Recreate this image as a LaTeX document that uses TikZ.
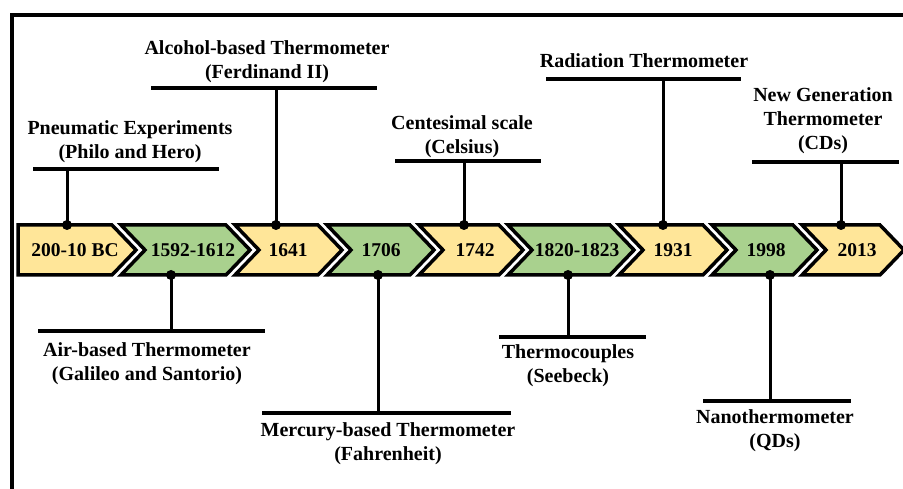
\documentclass[tikz,border=0pt]{standalone}
\usepackage{fontspec}
\setmainfont{Liberation Serif}
\definecolor{chevY}{HTML}{FFE699}
\definecolor{chevG}{HTML}{A9D18E}
\tikzset{
  chevbox/.style={draw=black, line width=3.5pt, line join=miter},
  yearlabel/.style={font=\bfseries\fontsize{19.5}{23}\selectfont, inner sep=0pt},
  evlabel/.style={font=\bfseries\fontsize{20}{24}\selectfont, inner sep=0pt, align=center},
  barline/.style={line width=4pt},
  stemline/.style={line width=3pt},
  dotmark/.style={fill=black},
}
% #1 left x, #2 right x, #3 colour, #4 name, #5 text, #6 text centre x
\newcommand\chevshape[6]{%
  \draw[chevbox, fill=#3] (#1,225) -- (#2,225) -- (#2+24,250) -- (#2,275) -- (#1,275) -- (#1+24,250) -- cycle;
  \node[yearlabel] (#4) at (#6,250) {#5};}
% #1 name, #2 stem x, #3 dot y, #4 bar y, #5 bar x1, #6 bar x2
\newcommand\evstem[6]{%
  \coordinate (#1d) at (#2,#3);
  \coordinate (#1b) at (#2,#4);
  \coordinate (#1l) at (#5,#4);
  \coordinate (#1r) at (#6,#4);
  \draw[barline] (#1l) -- (#1r);
  \draw[stemline] (#1d) -- (#1b);
  \fill[dotmark] (#1d) circle[radius=5pt];}
\begin{document}
\begin{tikzpicture}[x=1pt,y=-1pt]
\useasboundingbox (0,0) rectangle (903,489);
\clip (0,0) rectangle (903,489);
% frame
\draw[line width=3.5pt] (12,489) -- (12,15) -- (903,15);
% first chevron (flat left side)
\draw[chevbox, fill=chevY] (18,225) -- (112,225) -- (136,250) -- (112,275) -- (18,275) -- cycle;
\node[yearlabel] (y1) at (75,250) {200-10 BC};
\chevshape{121}{226}{chevG}{y2}{1592-1612}{193}
\chevshape{235}{318}{chevY}{y3}{1641}{288}
\chevshape{327}{410}{chevG}{y4}{1706}{381}
\chevshape{419}{499}{chevY}{y5}{1742}{475}
\chevshape{508}{610}{chevG}{y6}{1820-1823}{577}
\chevshape{619}{703}{chevY}{y7}{1931}{673}
\chevshape{712}{793}{chevG}{y8}{1998}{766}
\chevshape{802}{880}{chevY}{y9}{2013}{857}
% top events
\evstem{pne}{67}{225}{169}{33}{219}
\node[evlabel] (pne) at (130,141.5) {Pneumatic Experiments\\(Philo and Hero)};
\evstem{alc}{276}{225}{88}{151}{377}
\node[evlabel] (alc) at (267,62) {Alcohol-based Thermometer\\(Ferdinand II)};
\evstem{cel}{464}{225}{161}{395}{541}
\node[evlabel] (cel) at (462,137) {Centesimal scale\\(Celsius)};
\evstem{rad}{663}{225}{79}{546}{741}
\node[evlabel] (rad) at (644,61) {Radiation Thermometer};
\evstem{ngt}{841}{225}{162}{752}{899}
\node[evlabel] (ngt) at (823,121) {New Generation\\Thermometer\\(CDs)};
% bottom events
\evstem{air}{171}{275}{331}{38}{265}
\node[evlabel] (air) at (147,363.5) {Air-based Thermometer\\(Galileo and Santorio)};
\evstem{mer}{378}{275}{413}{262}{511}
\node[evlabel] (mer) at (388,443.5) {Mercury-based Thermometer\\(Fahrenheit)};
\evstem{tc}{568}{275}{337}{499}{646}
\node[evlabel] (tc) at (568,365.5) {Thermocouples\\(Seebeck)};
\evstem{nan}{770}{275}{401}{703}{851}
\node[evlabel] (nan) at (775,430.5) {Nanothermometer\\(QDs)};
\end{tikzpicture}
\end{document}
